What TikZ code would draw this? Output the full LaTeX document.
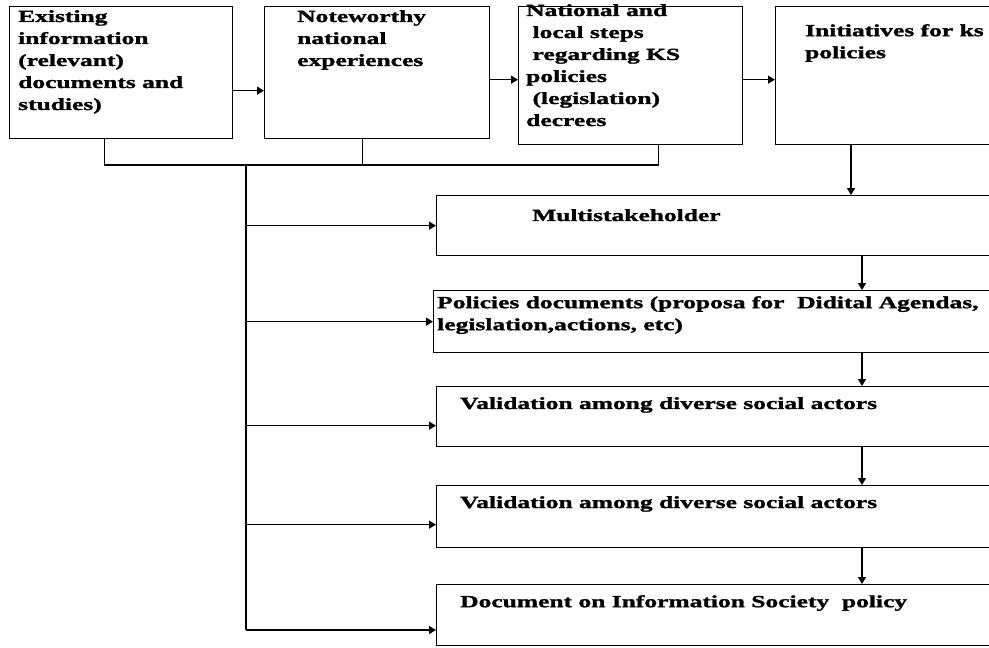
\documentclass[tikz,border=0pt]{standalone}
\usepackage{fontspec}
\setmainfont{Liberation Serif}[BoldFeatures={FakeStretch=1.5,FakeBold=1.5}]
\usetikzlibrary{arrows.meta}
\begin{document}
\begin{tikzpicture}[x=1pt,y=-1pt,
  box/.style={draw,line width=1.3pt,rectangle,inner sep=0pt,anchor=north west},
  txt/.style={anchor=north west,inner sep=0pt,align=left,font=\fontsize{17}{22}\selectfont\bfseries},
  con/.style={line width=1.3pt},
  arr/.style={line width=1.3pt,-{Triangle[length=7pt,width=8pt]}}]
\useasboundingbox (0,0) rectangle (989,648);
\clip (0,0) rectangle (989,648);
% top row boxes
\node[box,minimum width=223pt,minimum height=132pt] (b1) at (9,6) {};
\node[box,minimum width=225pt,minimum height=132pt] (b2) at (264,6) {};
\node[box,minimum width=224pt,minimum height=138pt] (b3) at (518,6) {};
\node[box,minimum width=240pt,minimum height=138pt] (b4) at (775,6) {};
% lower boxes
\node[box,minimum width=570pt,minimum height=60pt] (m) at (436,195) {};
\node[box,minimum width=573pt,minimum height=62pt] (p) at (433,290) {};
\node[box,minimum width=570pt,minimum height=60pt] (v1) at (436,386) {};
\node[box,minimum width=570pt,minimum height=62pt] (v2) at (436,485) {};
\node[box,minimum width=570pt,minimum height=61pt] (d) at (436,584) {};
% texts
\node[txt] (t1) at (18,10) {Existing\\information\\(relevant)\\documents and\\studies)};
\node[txt] (t2) at (297,10) {Noteworthy\\national\\experiences};
\node[txt] (t3) at (526,4) {National and\\\ local steps\\\ regarding KS\\policies\\\ (legislation)\\decrees};
\node[txt] (t4) at (805,24) {Initiatives for ks\\policies};
\node[txt] (tm) at (532,209) {Multistakeholder};
\node[txt] (tp) at (437,296) {Policies documents (proposa for\ \ Didital Agendas,\\legislation,actions, etc)};
\node[txt] (tv1) at (460,397) {Validation among diverse social actors};
\node[txt] (tv2) at (460,496) {Validation among diverse social actors};
\node[txt] (td) at (460,595) {Document on Information Society\ \ policy};
% coordinates
\coordinate (j) at (246,165);
\coordinate (jb) at (246,630);
\coordinate (dx) at (862,0);
\coordinate (dx4) at (851,0);
\coordinate (e1) at ([yshift=-18pt]b1.east);
\coordinate (e2) at ([yshift=-7pt]b2.east);
\coordinate (e3) at ([yshift=-4pt]b3.east);
\coordinate (s1) at ([xshift=-17pt]b1.south);
\coordinate (s2) at ([xshift=-15pt]b2.south);
\coordinate (s3) at ([xshift=28pt]b3.south);
\coordinate (w3) at ([yshift=-9pt]v1.west);
\coordinate (w4) at ([yshift=-8pt]v2.west);
% top arrows
\draw[arr] (e1) -- (e1 -| b2.west);
\draw[arr] (e2) -- (e2 -| b3.west);
\draw[arr] (e3) -- (e3 -| b4.west);
% bracket
\draw[con] (s1) |- (j) -| (s3);
\draw[con] (s2) -- (s2 |- j);
\draw[con] (j) -- (jb);
% feeding arrows
\draw[arr] (j |- m.west) -- (m.west);
\draw[arr] (j |- p.west) -- (p.west);
\draw[arr] (j |- w3) -- (w3);
\draw[arr] (j |- w4) -- (w4);
\draw[arr] (jb) -- (jb -| d.west);
% down arrows
\draw[arr] (b4.south -| dx4) -- (m.north -| dx4);
\draw[arr] (m.south -| dx) -- (p.north -| dx);
\draw[arr] (p.south -| dx) -- (v1.north -| dx);
\draw[arr] (v1.south -| dx) -- (v2.north -| dx);
\draw[arr] (v2.south -| dx) -- (d.north -| dx);
\end{tikzpicture}
\end{document}
